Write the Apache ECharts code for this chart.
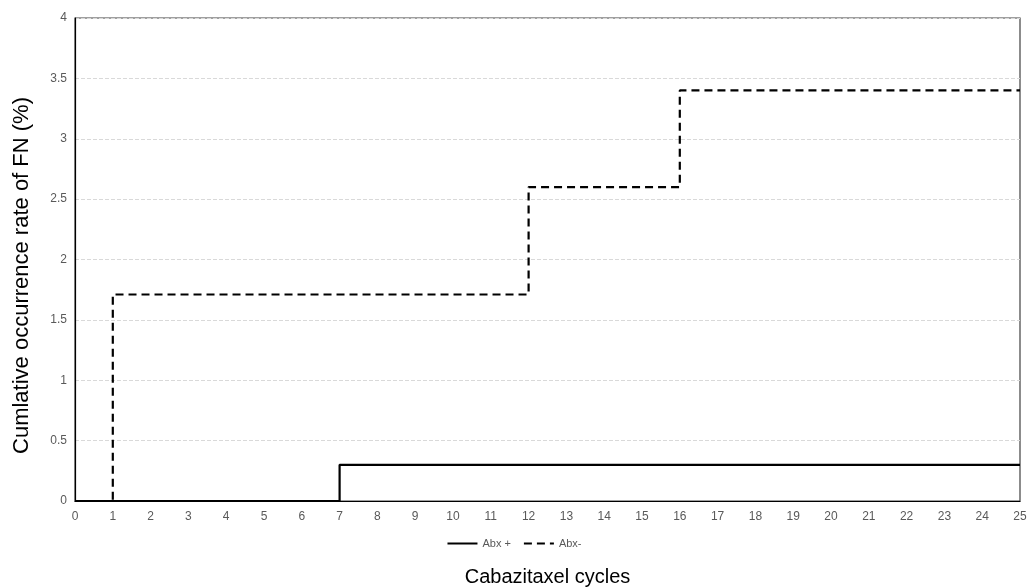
<!DOCTYPE html>
<html>
<head>
<meta charset="utf-8">
<script src="https://cdn.jsdelivr.net/npm/echarts@6/dist/echarts.min.js"></script>
<style>html,body{margin:0;padding:0;background:#fff}#c{width:1028px;height:588px}</style>
</head>
<body>
<div id="c"></div>
<script>
// Data
const seriesNames = ['Abx +', 'Abx-'];
const abxPlusCycles = [0, 7, 25];
const abxPlusRates = [0, 0.3, 0.3];
const abxMinusCycles = [0, 1, 12, 16, 25];
const abxMinusRates = [0, 1.71, 2.6, 3.4, 3.4];
const xTicks = [0, 25, 1];
const yTicks = [0, 4, 0.5];

const zip = (xs, ys) => xs.map((x, i) => [x, ys[i]]);

const chart = echarts.init(document.getElementById('c'), null, {renderer: 'canvas'});
chart.setOption({
  animation: false,
  backgroundColor: '#fff',
  grid: {left: 75, right: 8, top: 18, bottom: 87, show: true, borderColor: '#404040', borderWidth: 1.2, containLabel: false, outerBoundsMode: 'none'},
  legend: {
    show: true,
    top: 533, left: 'center',
    itemWidth: 30, itemHeight: 12, itemGap: 12,
    itemStyle: {opacity: 0},
    textStyle: {color: '#595959', fontSize: 11, fontFamily: 'Liberation Sans, Arial'},
    data: [seriesNames[0], seriesNames[1]]
  },
  xAxis: {
    type: 'value', min: xTicks[0], max: xTicks[1], interval: xTicks[2],
    name: 'Cabazitaxel cycles', nameLocation: 'middle', nameGap: 66,
    nameTextStyle: {color: '#000', fontSize: 20, fontFamily: 'Liberation Sans, Arial'},
    axisLine: {show: true, lineStyle: {color: '#000', width: 1.2}},
    axisTick: {show: false},
    axisLabel: {color: '#595959', fontSize: 12, margin: 10, fontFamily: 'Liberation Sans, Arial'},
    splitLine: {show: false}
  },
  yAxis: {
    type: 'value', min: yTicks[0], max: yTicks[1], interval: yTicks[2],
    name: 'Cumlative occurrence rate of FN (%)', nameLocation: 'middle', nameGap: 42,
    nameTextStyle: {color: '#000', fontSize: 22, fontFamily: 'Liberation Sans, Arial', padding: [0, 32, 0, 0]},
    axisLine: {show: true, lineStyle: {color: '#000', width: 1.2}},
    axisTick: {show: false},
    axisLabel: {color: '#595959', fontSize: 12, margin: 8, fontFamily: 'Liberation Sans, Arial'},
    splitLine: {show: true, lineStyle: {color: '#d9d9d9', type: [4, 2], width: 1}}
  },
  series: [
    {
      name: seriesNames[0], type: 'line', step: 'end', symbol: 'none', z: 3,
      data: zip(abxPlusCycles, abxPlusRates),
      lineStyle: {color: '#000', width: 2.2, type: 'solid'},
      itemStyle: {color: '#000'}
    },
    {
      name: seriesNames[1], type: 'line', step: 'end', symbol: 'none', z: 2,
      data: zip(abxMinusCycles, abxMinusRates),
      lineStyle: {color: '#000', width: 2.2, type: [8, 5]},
      itemStyle: {color: '#000'}
    }
  ]
});
</script>
</body>
</html>
